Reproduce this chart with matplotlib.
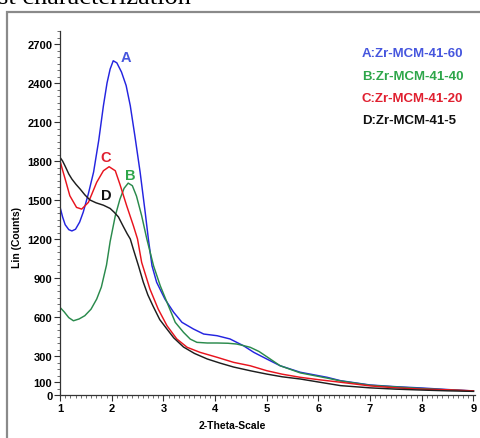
import matplotlib
matplotlib.use("Agg")
import matplotlib.pyplot as plt
from matplotlib.patches import Rectangle
from matplotlib import font_manager

# ---- data ----
xA = [1.0, 1.05, 1.1, 1.17, 1.23, 1.3, 1.38, 1.45, 1.55, 1.65, 1.75, 1.84, 1.91, 1.97, 2.03, 2.1, 2.19, 2.28, 2.36, 2.45, 2.55, 2.65, 2.71, 2.78, 2.87, 3.03, 3.2, 3.36, 3.58, 3.78, 4.04, 4.29, 4.55, 4.75, 5.0, 5.26, 5.65, 6.17, 6.43, 7.0, 7.5, 8.0, 8.5, 9.0]
yA = [1446, 1370, 1310, 1272, 1262, 1275, 1330, 1407, 1550, 1715, 1960, 2225, 2400, 2507, 2571, 2555, 2484, 2380, 2225, 1990, 1715, 1400, 1200, 994, 867, 738, 636, 559, 508, 469, 456, 431, 379, 328, 277, 225, 175, 136, 110, 77, 64, 54, 42, 31]

xB = [1.0, 1.08, 1.17, 1.26, 1.37, 1.48, 1.6, 1.71, 1.8, 1.9, 1.97, 2.07, 2.16, 2.24, 2.32, 2.4, 2.48, 2.58, 2.68, 2.81, 2.94, 3.07, 3.23, 3.39, 3.52, 3.65, 3.85, 4.04, 4.25, 4.42, 4.55, 4.68, 4.85, 5.0, 5.26, 5.65, 6.17, 6.43, 7.0, 7.5, 8.0, 8.5, 9.0]
yB = [674, 640, 595, 571, 585, 610, 660, 738, 830, 1000, 1180, 1379, 1507, 1590, 1630, 1610, 1530, 1379, 1200, 994, 840, 713, 559, 482, 430, 405, 400, 400, 398, 392, 380, 367, 335, 295, 225, 170, 130, 108, 75, 62, 50, 40, 30]

xC = [1.0, 1.05, 1.1, 1.19, 1.32, 1.42, 1.55, 1.71, 1.84, 1.95, 2.07, 2.16, 2.29, 2.42, 2.5, 2.58, 2.74, 2.9, 3.07, 3.26, 3.46, 3.71, 4.04, 4.36, 4.68, 5.0, 5.3, 5.65, 6.0, 6.43, 7.0, 7.5, 8.0, 8.5, 9.0]
yC = [1802, 1730, 1661, 1533, 1443, 1430, 1482, 1636, 1725, 1756, 1725, 1620, 1456, 1302, 1200, 1020, 815, 661, 533, 431, 367, 328, 290, 251, 225, 187, 160, 136, 118, 98, 70, 55, 45, 40, 32]

xD = [1.0, 1.05, 1.1, 1.17, 1.23, 1.31, 1.39, 1.48, 1.58, 1.7, 1.84, 1.97, 2.05, 2.13, 2.22, 2.3, 2.36, 2.42, 2.52, 2.61, 2.7, 2.8, 2.93, 3.07, 3.2, 3.39, 3.6, 3.85, 4.1, 4.36, 4.7, 5.0, 5.3, 5.65, 6.0, 6.43, 7.0, 7.5, 8.0, 8.5, 9.0]
yD = [1828, 1800, 1760, 1700, 1661, 1620, 1584, 1540, 1500, 1478, 1460, 1435, 1405, 1370, 1300, 1240, 1200, 1120, 992, 870, 770, 684, 580, 507, 440, 369, 320, 277, 245, 215, 185, 161, 140, 123, 100, 72, 55, 45, 38, 32, 28]

series_names = ["A:Zr-MCM-41-60", "B:Zr-MCM-41-40", "C:Zr-MCM-41-20", "D:Zr-MCM-41-5"]
peak_labels = ["A", "B", "C", "D"]
label_pos = [(2.28, 2600), (2.36, 1692), (1.89, 1830), (1.89, 1538)]

yticks = [0, 100, 300, 600, 900, 1200, 1500, 1800, 2100, 2400, 2700]
xticks = [1, 2, 3, 4, 5, 6, 7, 8, 9]

line_colors = ["#2424e0", "#2a8a4c", "#e8141e", "#1e1e1e"]
text_colors = ["#4656de", "#2ea64a", "#e02030", "#111111"]

installed = {f.name for f in font_manager.fontManager.ttflist}
narrow = [f for f in ["Liberation Sans Narrow", "DejaVu Sans Condensed"] if f in installed]
narrow = narrow + ["Liberation Sans", "DejaVu Sans"]
tick_stretch = "condensed"

fig = plt.figure(figsize=(4.8, 4.39), dpi=100)
fig.patch.set_facecolor("white")

# outer frame of the pasted figure
fig.patches.append(Rectangle((7 / 480, -0.2), 1.2, 1 - 13 / 439 + 0.2,
                             transform=fig.transFigure, fill=False,
                             edgecolor="#8a8a8a", linewidth=1.6, zorder=0))
# clipped caption text at the top
fig.text(-0.004, 1 - 4.5 / 439, "st characterization", family=["Liberation Serif", "DejaVu Serif"],
         fontsize=19, va="baseline", ha="left", color="black")

ax = fig.add_axes([60 / 480, 43 / 439, 415 / 480, 364 / 439])
for xs, ys, c in zip([xA, xB, xC, xD], [yA, yB, yC, yD], line_colors):
    ax.plot(xs, ys, color=c, lw=1.05)

ax.set_xlim(1, 9.03)
ax.set_ylim(0, 2800)
for s in ["top", "right"]:
    ax.spines[s].set_visible(False)
for s in ["left", "bottom"]:
    ax.spines[s].set_color("#333333")
    ax.spines[s].set_linewidth(0.9)

ax.set_yticks(yticks)
ax.set_xticks(xticks)
ax.set_yticks(range(0, 2801, 50), minor=True)
ax.set_xticks([1 + 0.1 * i for i in range(81)], minor=True)
ax.tick_params(which="major", length=4, width=0.8, color="#333333", pad=1.5)
ax.tick_params(which="minor", length=2.2, width=0.6, color="#555555")
for lab in ax.get_xticklabels() + ax.get_yticklabels():
    lab.set_family(narrow)
    lab.set_fontweight("bold")
    lab.set_fontsize(8)
    lab.set_fontstretch(tick_stretch)

ax.set_xlabel("2-Theta-Scale", family=narrow, fontweight="bold", fontsize=7.5,
              fontstretch=tick_stretch)
ax.set_ylabel("Lin (Counts)", family=narrow, fontweight="bold", fontsize=7.5,
              fontstretch=tick_stretch)
ax.xaxis.set_label_coords((232 - 60) / 415, (396 - 426) / 364)
ax.yaxis.set_label_coords((22 - 60) / 415, (396 - 237) / 364)
ax.xaxis.label.set_va("center")

for lab, (px, py), c in zip(peak_labels, label_pos, text_colors):
    ax.text(px, py, lab, color=c, fontsize=10.5, fontweight="bold",
            family=["Liberation Sans", "DejaVu Sans"], ha="center", va="center")

for i, (name, c) in enumerate(zip(series_names, text_colors)):
    fig.text(362 / 480, 1 - (54 + 22.5 * i) / 439, name, color=c, fontsize=9.5,
             fontweight="bold", family=narrow, fontstretch=tick_stretch,
             ha="left", va="center")

fig.savefig("out.png", dpi=100)
